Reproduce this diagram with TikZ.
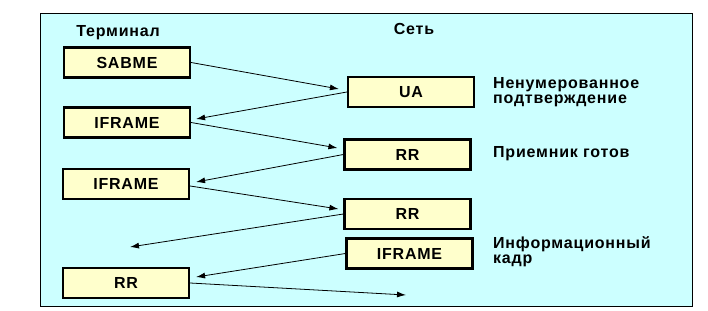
\documentclass[tikz,border=0pt]{standalone}
\usepackage{fontspec}
\newfontfamily\diagfont{Liberation Sans}[LetterSpace=5]
\usetikzlibrary{arrows.meta}
\definecolor{bgcyan}{HTML}{CCFFFF}
\definecolor{boxyellow}{HTML}{FFFFCC}

\begin{document}
\begin{tikzpicture}[x=1pt, y=-1pt,
>={Latex[length=9pt,width=6pt]},
lbl/.style={font=\diagfont\bfseries\fontsize{16}{15}\selectfont},
frame/.style={draw, line width=2.2pt, fill=boxyellow, minimum width=126pt, minimum height=30pt, lbl},
note/.style={lbl, align=left, anchor=north west, inner sep=0pt},
msg/.style={->, line width=0.8pt}
]
\useasboundingbox (0,0) rectangle (708,310);
\draw[line width=1pt, fill=bgcyan] (40,14) rectangle (692,306);

\node[lbl, anchor=base] (term) at (118,37) {Терминал};
\node[lbl, anchor=base] (net) at (414,35) {Сеть};

% terminal side
\node[frame] (sabme) at (127,62.5) {SABME};
\node[frame] (iframeA) at (127,122.5) {IFRAME};
\node[frame] (iframeB) at (126,184) {IFRAME};
\node[frame] (rrC) at (126,283) {RR};

% network side
\node[frame] (ua) at (411,92) {UA};
\node[frame] (rrA) at (407.5,154.5) {RR};
\node[frame] (rrB) at (407.5,214) {RR};
\node[frame] (iframeC) at (409.5,253.5) {IFRAME};

\node[note] (uanote) at (493,77) {Ненумерованное\\подтверждение};
\node[note, anchor=base west] (rrnote) at (493,157) {Приемник готов};
\node[note] (ifnote) at (493,236) {Информационный\\кадр};

\coordinate (lost) at (130,247);
\coordinate (out) at (406,295);

\draw[msg] (sabme.east) -- ([xshift=-8pt,yshift=3pt]ua.west);
\draw[msg] (ua.west) -- ([xshift=5pt,yshift=3.5pt]iframeA.east);
\draw[msg] (iframeA.east) -- ([xshift=-6pt,yshift=6.5pt]rrA.west);
\draw[msg] (rrA.west) -- ([xshift=6pt,yshift=2pt]iframeB.east);
\draw[msg] ([yshift=-2pt]iframeB.east) -- ([xshift=-5pt,yshift=5pt]rrB.west);
\draw[msg] (rrB.west) -- (lost);
\draw[msg] (iframeC.west) -- ([xshift=6pt,yshift=6pt]rrC.east);
\draw[msg] (rrC.east) -- (out);
\end{tikzpicture}
\end{document}
